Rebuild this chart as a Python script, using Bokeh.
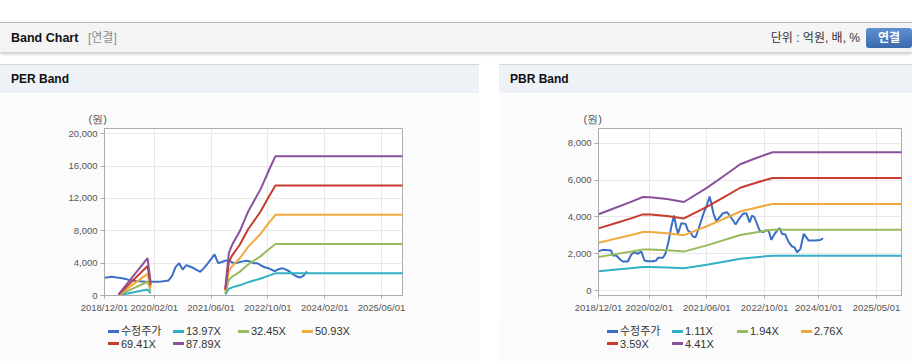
import numpy as np
import pandas as pd
from bokeh.plotting import figure
from bokeh.models import (Range1d, FixedTicker, DatetimeTickFormatter, NumeralTickFormatter,
                          Title, Div, Spacer)
from bokeh.layouts import column, row
from bokeh.embed import file_html
from bokeh.resources import INLINE

FONT = "Liberation Sans"
CSS_FONT = "'Liberation Sans','Noto Sans CJK KR',sans-serif"

x_start, x_end = "2018-12-01", "2025-11-28"

# ---------------- PER band data ----------------
per_tick_labels = ["2018/12/01", "2020/02/01", "2021/06/01", "2022/10/01", "2024/02/01", "2025/06/01"]
per_y_ticks = [0, 4000, 8000, 12000, 16000, 20000]
per_y_range = (0, 20650)
per_price_first_month, per_price_last_month = "2018-12-01", "2023-09-01"
per_price = [2190,
             2250, 2320, 2260, 2190, 2130, 2050, 1900, 1850, 1800, 1760, 1720, 1700,
             1700, 1700, 1700, 1720, 1780, 1850, 2400, 3500, 4000, 3200, 3750, 3580,
             3400, 3150, 2930, 3380, 3900, 4500, 5100, 4000, 4150, 4300, 4370, 4070,
             4000, 4130, 4220, 4290, 4200, 4000, 4000, 3740, 3500, 3400, 3200, 3000,
             3250, 3380, 3230, 3000, 2650, 2380, 2220, 2420, 2980]
per_eps_dates = ["2019-04-01", "2019-12-05", "2020-01-01", "2020-01-15",
                 "2021-10-01", "2021-11-01", "2021-12-01", "2022-02-01", "2022-04-15",
                 "2022-08-01", "2022-10-15", "2022-12-05", "2025-12-01"]
per_eps = [1.5, 52.5, 18, np.nan,
           10, 60, 72, 90, 118,
           150, 178, 196, 196]
per_multiples = [13.97, 32.45, 50.93, 69.41, 87.89]
per_labels = ["13.97X", "32.45X", "50.93X", "69.41X", "87.89X"]

# ---------------- PBR band data ----------------
pbr_tick_labels = ["2018/12/01", "2020/02/01", "2021/06/01", "2022/10/01", "2024/01/01", "2025/05/01"]
pbr_y_ticks = [0, 2000, 4000, 6000, 8000]
pbr_y_range = (-270, 8800)
pbr_price_dates = ["2018-12-01", "2019-01-07", "2019-03-18", "2019-04-01", "2019-04-29", "2019-06-11",
                   "2019-06-25", "2019-08-06", "2019-09-03", "2019-10-01", "2019-10-29", "2019-11-26",
                   "2019-12-24", "2020-01-22", "2020-03-04", "2020-04-01", "2020-04-15", "2020-05-27",
                   "2020-06-16", "2020-07-09", "2020-08-05", "2020-08-28", "2020-09-17", "2020-10-01",
                   "2020-10-29", "2020-12-04", "2020-12-24", "2021-01-13", "2021-02-04", "2021-02-26",
                   "2021-03-19", "2021-04-15", "2021-05-08", "2021-06-05", "2021-06-25", "2021-07-09",
                   "2021-07-28", "2021-08-20", "2021-09-17", "2021-10-16", "2021-11-18", "2021-12-10",
                   "2022-01-08", "2022-01-30", "2022-02-28", "2022-04-02", "2022-04-30", "2022-05-28",
                   "2022-06-17", "2022-07-07", "2022-07-29", "2022-08-20", "2022-09-18", "2022-10-07",
                   "2022-11-04", "2022-11-27", "2022-12-25", "2023-01-19", "2023-02-05", "2023-02-25",
                   "2023-03-25", "2023-04-22", "2023-05-21", "2023-06-09", "2023-07-02", "2023-07-30",
                   "2023-08-27", "2023-10-08", "2023-12-03", "2024-01-14", "2024-02-06"]
pbr_price = [2135, 2210, 2170, 1900, 1900, 1630,
             1575, 1575, 1955, 2080, 1990, 2135,
             1630, 1590, 1590, 1630, 1775, 1775,
             1990, 2535, 3440, 4075, 3440, 3080,
             3655, 3620, 3260, 3170, 2935, 2895,
             3260, 3800, 4255, 4710, 5105, 4710,
             4165, 3765, 3980, 4200, 4255, 4075,
             3800, 3585, 3895, 4165, 4200, 3700,
             4075, 3980, 3620, 3260, 3170, 3260,
             3260, 2750, 3080, 3295, 3385, 3080,
             3040, 2625, 2390, 2350, 2080, 2265,
             3080, 2715, 2715, 2750, 2840]
pbr_bps_dates = ["2018-12-01", "2019-05-05", "2019-08-26", "2019-12-10", "2020-02-10", "2020-06-30",
                 "2020-11-20", "2021-06-01", "2021-11-15", "2022-03-10", "2022-07-01", "2022-10-07",
                 "2022-12-08", "2025-12-01"]
pbr_bps = [940, 1026, 1088, 1152, 1150, 1128,
           1090, 1265, 1435, 1555, 1620, 1672,
           1703, 1703]
pbr_multiples = [1.11, 1.94, 2.76, 3.59, 4.41]
pbr_labels = ["1.11X", "1.94X", "2.76X", "3.59X", "4.41X"]

price_label = "수정주가"
price_color = "#3a6fc5"
band_colors = ["#31b0c6", "#98bb5e", "#f0aa3c", "#c83b2d", "#8a509c"]
PANEL_BG = "#fbfbfb"


def tick_ms(labels):
    return [pd.Timestamp(t.replace("/", "-")).value / 1e6 for t in labels]


def band_chart(width, left, right, tick_labels, y_ticks, y_range,
               price_x, price_y, band_x, base, mults, unit_offset):
    p = figure(width=width, height=225, x_axis_type="datetime", output_backend="svg",
               toolbar_location=None,
               x_range=Range1d(pd.Timestamp(x_start), pd.Timestamp(x_end)),
               y_range=Range1d(*y_range),
               min_border_left=left, min_border_right=right,
               min_border_top=35, min_border_bottom=23,
               background_fill_color="white", border_fill_color=PANEL_BG,
               outline_line_color="#ababab")
    p.line(price_x, price_y, line_color=price_color, line_width=2)
    base_arr = np.asarray(base, dtype=float)
    for m, c in zip(mults, band_colors):
        p.line(band_x, base_arr * m, line_color=c, line_width=2)

    fmt = "%Y/%m/%d"
    p.xaxis.ticker = FixedTicker(ticks=tick_ms(tick_labels))
    p.xaxis.formatter = DatetimeTickFormatter(
        microseconds=fmt, milliseconds=fmt, seconds=fmt, minsec=fmt, minutes=fmt,
        hourmin=fmt, hours=fmt, days=fmt, months=fmt, years=fmt)
    p.yaxis.ticker = FixedTicker(ticks=y_ticks)
    p.yaxis.formatter = NumeralTickFormatter(format="0,0")
    for ax in (p.xaxis, p.yaxis):
        ax.axis_line_color = "#ababab"
        ax.major_tick_line_color = "#ababab"
        ax.major_tick_in = 0
        ax.minor_tick_line_color = None
        ax.major_label_text_font = FONT
        ax.major_label_text_font_size = "9.5px"
        ax.major_label_text_color = "#555555"
    p.xaxis.major_tick_out = 3
    p.yaxis.major_tick_out = 4
    p.xaxis.major_label_standoff = 3
    p.yaxis.major_label_standoff = 3
    p.grid.grid_line_color = "#e8e8e8"

    p.add_layout(Title(text="(원)", align="left", offset=unit_offset, standoff=7,
                       text_font=FONT, text_font_size="11px", text_font_style="normal",
                       text_color="#555555"), "above")
    return p


def legend_div(width, band_labels):
    entries = [(price_label, price_color)] + list(zip(band_labels, band_colors))
    col_x = [108, 173, 238, 302]
    row_y = [13, 25.7]
    parts = [f'<div style="position:relative;width:{width}px;height:43px;background:{PANEL_BG};'
             f'font-family:{CSS_FONT};font-size:11px;color:#333;">']
    for i, (lab, col) in enumerate(entries):
        x, y = col_x[i % 4], row_y[i // 4]
        parts.append(f'<div style="position:absolute;left:{x}px;top:{y - 1.5}px;width:11px;'
                     f'height:3px;background:{col};"></div>')
        parts.append(f'<div style="position:absolute;left:{x + 13}px;top:{y - 7}px;height:14px;'
                     f'line-height:14px;white-space:nowrap;">{lab}</div>')
    parts.append('</div>')
    return Div(text="".join(parts), width=width, height=43, margin=0)


per_months = pd.date_range(per_price_first_month, per_price_last_month, freq="MS")
p1 = band_chart(479, 104, 77, per_tick_labels, per_y_ticks, per_y_range,
                per_months, per_price, pd.to_datetime(per_eps_dates), per_eps,
                per_multiples, -16)
p2 = band_chart(413, 99, 11, pbr_tick_labels, pbr_y_ticks, pbr_y_range,
                pd.to_datetime(pbr_price_dates), pbr_price, pd.to_datetime(pbr_bps_dates), pbr_bps,
                pbr_multiples, -15)

header_html = f"""
<div style="position:relative;width:912px;height:64px;overflow:hidden;background:#fff;font-family:{CSS_FONT};">
 <div style="position:absolute;left:0;top:22px;width:912px;height:30px;border-top:1px solid #b5b5b5;background:#f4f4f4;box-shadow:0 2px 3px rgba(0,0,0,0.22);"></div>
 <div style="position:absolute;left:11px;top:23px;height:30px;line-height:30px;font-size:12.5px;font-weight:bold;color:#111;">Band Chart</div>
 <div style="position:absolute;left:88px;top:23px;height:30px;line-height:30px;font-size:12px;color:#8c8c8c;">[연결]</div>
 <div style="position:absolute;right:52px;top:23px;height:30px;line-height:30px;font-size:12px;color:#333;">단위 : 억원, 배, %</div>
 <div style="position:absolute;left:866px;top:28px;width:46px;height:20px;border-radius:3px;background:linear-gradient(#5f90d3,#3a6aac);color:#fff;font-size:12px;font-weight:bold;line-height:20px;text-align:center;">연결</div>
</div>
"""
header = Div(text=header_html, width=912, height=64, margin=0)


def title_div(text, width, pad):
    html = (f'<div style="width:{width}px;height:29px;box-sizing:border-box;border-top:1px solid #d4d4d4;'
            f'background:#eef2f7;font-family:{CSS_FONT};font-size:12px;font-weight:bold;color:#111;'
            f'line-height:28px;padding-left:{pad}px;">{text}</div>')
    return Div(text=html, width=width, height=29, margin=0)


def bottom_div(width):
    html = (f'<div style="width:{width}px;height:3px;box-sizing:border-box;background:{PANEL_BG};'
            f'border-bottom:1px solid #fff;"><div style="margin-top:1px;height:1px;background:#d0d0d0;"></div></div>')
    return Div(text=html, width=width, height=3, margin=0)


left_panel = column(title_div("PER Band", 479, 11), p1, legend_div(479, per_labels),
                    bottom_div(479), spacing=0)
right_panel = column(title_div("PBR Band", 413, 11), p2, legend_div(413, pbr_labels),
                     bottom_div(413), spacing=0)
body = row(left_panel, Spacer(width=20, height=300, margin=0), right_panel, spacing=0)
layout = column(header, body, spacing=0)

open("out.html", "w").write(file_html(layout, INLINE))
